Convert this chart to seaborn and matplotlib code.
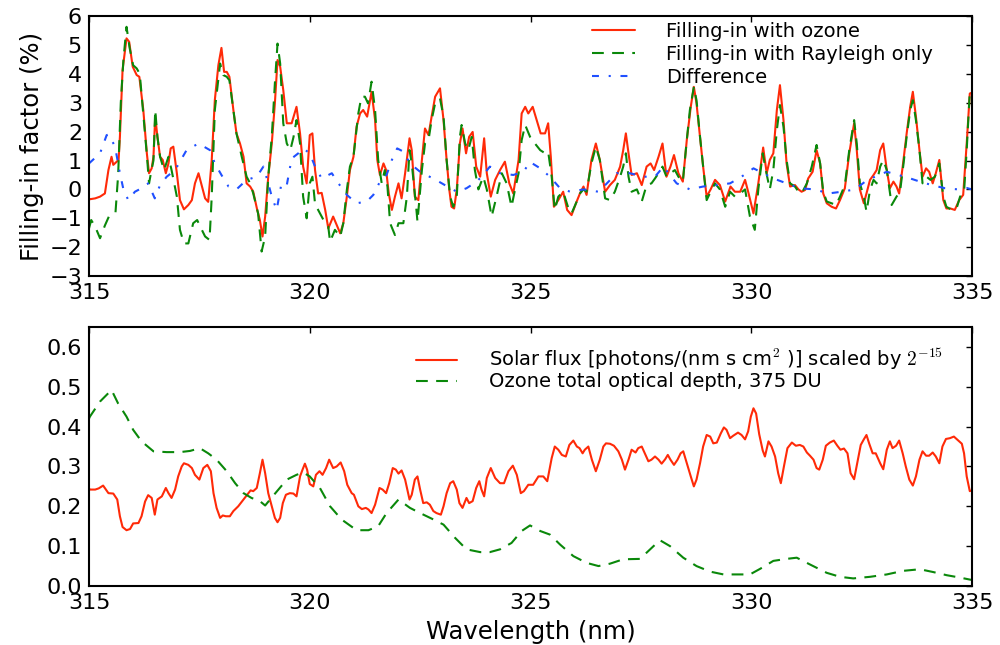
import numpy as np
import pandas as pd
import matplotlib
matplotlib.use("Agg")
import matplotlib.pyplot as plt
import seaborn as sns

# ---- data ----
# top panel: filling-in with ozone
wl_ozone = [315.00, 315.02, 315.14, 315.25, 315.36, 315.44, 315.51, 315.55, 315.63, 315.67, 315.70, 315.76,
            315.85, 315.91, 315.99, 316.08, 316.14, 316.23, 316.31, 316.36, 316.42, 316.46, 316.50, 316.55,
            316.61, 316.67, 316.74, 316.80, 316.85, 316.91, 316.99, 317.06, 317.15, 317.25, 317.33, 317.40,
            317.48, 317.55, 317.63, 317.70, 317.78, 317.85, 317.93, 318.00, 318.06, 318.12, 318.18, 318.27,
            318.34, 318.42, 318.50, 318.57, 318.65, 318.72, 318.81, 318.87, 318.93, 318.99, 319.06, 319.14,
            319.21, 319.27, 319.33, 319.40, 319.48, 319.59, 319.70, 319.78, 319.85, 319.93, 320.00, 320.06,
            320.12, 320.19, 320.27, 320.35, 320.42, 320.53, 320.61, 320.69, 320.76, 320.84, 320.91, 320.99,
            321.06, 321.14, 321.21, 321.30, 321.40, 321.48, 321.53, 321.59, 321.67, 321.73, 321.79, 321.86,
            321.93, 322.01, 322.08, 322.16, 322.26, 322.31, 322.38, 322.46, 322.54, 322.61, 322.69, 322.76,
            322.84, 322.95, 323.03, 323.10, 323.16, 323.21, 323.27, 323.33, 323.40, 323.46, 323.54, 323.61,
            323.69, 323.77, 323.86, 323.95, 324.01, 324.10, 324.20, 324.31, 324.42, 324.52, 324.61, 324.73,
            324.80, 324.88, 324.95, 325.05, 325.14, 325.23, 325.33, 325.40, 325.46, 325.53, 325.63, 325.74,
            325.83, 325.93, 326.03, 326.12, 326.20, 326.27, 326.38, 326.48, 326.57, 326.69, 326.80, 326.91,
            327.03, 327.10, 327.16, 327.22, 327.29, 327.41, 327.52, 327.63, 327.72, 327.80, 327.90, 327.99,
            328.08, 328.17, 328.25, 328.35, 328.45, 328.54, 328.63, 328.70, 328.76, 328.84, 328.91, 328.99,
            329.08, 329.18, 329.29, 329.41, 329.53, 329.63, 329.75, 329.86, 329.94, 330.05, 330.16, 330.27,
            330.35, 330.42, 330.50, 330.58, 330.65, 330.73, 330.80, 330.88, 330.99, 331.07, 331.14, 331.22,
            331.29, 331.39, 331.48, 331.56, 331.63, 331.71, 331.82, 331.92, 332.01, 332.12, 332.22, 332.33,
            332.39, 332.46, 332.55, 332.61, 332.69, 332.77, 332.84, 332.92, 332.99, 333.07, 333.14, 333.22,
            333.29, 333.35, 333.43, 333.52, 333.60, 333.66, 333.73, 333.81, 333.88, 333.96, 334.03, 334.11,
            334.18, 334.26, 334.35, 334.42, 334.51, 334.61, 334.71, 334.80, 334.88, 334.95, 335.00]
fi_ozone = [-0.32, -0.34, -0.31, -0.25, -0.14, 0.67, 1.13, 0.85, 0.96, 1.02, 1.82, 4.13,
            5.23, 5.11, 4.25, 3.96, 3.90, 2.75, 1.25, 0.56, 0.73, 1.13, 2.52, 1.82,
            1.13, 1.02, 0.56, 0.90, 1.42, 1.48, 0.56, -0.37, -0.69, -0.54, -0.37, 0.21,
            0.56, 0.15, -0.31, -0.43, 1.02, 3.09, 4.30, 4.90, 4.07, 4.07, 3.90, 2.75,
            1.94, 1.59, 1.13, 0.21, 0.10, -0.08, -0.71, -1.06, -1.63, -0.94, 0.44, 1.59,
            2.98, 4.48, 4.25, 3.44, 2.29, 2.29, 2.86, 1.94, 0.79, 0.21, 1.88, 1.94,
            0.67, -0.14, -0.12, -0.71, -1.35, -0.94, -1.23, -1.52, -1.17, -0.25, 0.67, 1.13,
            2.17, 2.63, 2.75, 2.52, 3.38, 2.40, 1.02, 0.50, 0.90, 0.67, -0.14, -0.71,
            -0.25, 0.21, -0.31, 0.56, 1.77, 1.36, -0.25, -0.37, 1.02, 2.11, 1.88, 2.52,
            3.21, 3.50, 2.40, 1.02, 0.00, -0.60, -0.66, 0.00, 1.59, 2.11, 1.25, 1.82,
            1.99, 0.79, 0.44, 1.77, 0.56, -0.25, 0.33, 0.67, 0.96, 0.21, -0.14, 1.02,
            2.63, 2.86, 2.63, 2.86, 2.40, 1.94, 1.94, 2.29, 1.13, -0.60, -0.37, -0.08,
            -0.71, -0.89, -0.48, -0.14, 0.10, -0.19, 1.02, 1.59, 1.02, -0.08, 0.15, 0.33,
            0.79, 1.36, 1.94, 1.25, 0.50, 0.56, 0.15, 0.79, 0.90, 0.67, 1.13, 1.59,
            0.44, 0.79, 1.19, 0.56, 0.27, 1.71, 2.86, 3.55, 2.98, 1.82, 0.79, -0.25,
            0.00, 0.33, 0.15, -0.42, 0.10, -0.08, -0.08, 0.33, -0.14, -0.83, 0.21, 1.45,
            0.56, 1.02, 1.25, 2.75, 3.61, 2.40, 0.90, 0.10, 0.15, 0.00, -0.08, -0.02,
            0.38, 0.61, 1.36, 0.90, -0.14, -0.48, -0.60, -0.66, -0.37, 0.04, 1.25, 2.29,
            1.36, 0.00, -0.48, -0.14, 0.33, 0.50, 0.67, 1.36, 1.59, 0.67, 0.04, 0.27,
            0.10, -0.14, 0.79, 1.94, 2.86, 3.38, 2.52, 1.36, 0.44, 0.73, 0.61, 0.21,
            0.56, 1.02, -0.37, -0.66, -0.66, -0.71, -0.37, -0.19, 1.59, 3.32, 3.35]

# top panel: filling-in with Rayleigh only
wl_rayleigh = [315.00, 315.05, 315.14, 315.25, 315.36, 315.45, 315.55, 315.60, 315.66, 315.72, 315.78, 315.85,
               315.92, 316.00, 316.08, 316.15, 316.23, 316.31, 316.36, 316.42, 316.46, 316.50, 316.55, 316.61,
               316.70, 316.80, 316.87, 316.99, 317.06, 317.15, 317.25, 317.36, 317.45, 317.52, 317.63, 317.73,
               317.78, 317.85, 317.97, 318.04, 318.12, 318.18, 318.27, 318.34, 318.46, 318.57, 318.65, 318.72,
               318.83, 318.91, 318.99, 319.06, 319.14, 319.21, 319.27, 319.33, 319.40, 319.48, 319.56, 319.63,
               319.70, 319.78, 319.85, 319.93, 320.00, 320.06, 320.12, 320.19, 320.35, 320.42, 320.46, 320.57,
               320.69, 320.76, 320.84, 320.91, 320.99, 321.10, 321.17, 321.25, 321.32, 321.40, 321.48, 321.55,
               321.63, 321.70, 321.76, 321.82, 321.93, 322.01, 322.12, 322.20, 322.26, 322.31, 322.41, 322.44,
               322.54, 322.61, 322.69, 322.76, 322.84, 322.95, 323.03, 323.10, 323.18, 323.25, 323.33, 323.40,
               323.44, 323.52, 323.59, 323.67, 323.74, 323.82, 323.93, 324.01, 324.12, 324.23, 324.35, 324.46,
               324.57, 324.65, 324.73, 324.80, 324.88, 324.99, 325.10, 325.22, 325.33, 325.40, 325.48, 325.55,
               325.63, 325.74, 325.86, 325.93, 326.03, 326.12, 326.20, 326.27, 326.38, 326.48, 326.57, 326.69,
               326.80, 326.91, 327.03, 327.10, 327.16, 327.22, 327.29, 327.41, 327.52, 327.63, 327.74, 327.82,
               327.90, 327.99, 328.08, 328.17, 328.27, 328.35, 328.45, 328.54, 328.61, 328.70, 328.76, 328.84,
               328.91, 328.99, 329.08, 329.18, 329.29, 329.41, 329.52, 329.63, 329.75, 329.86, 329.97, 330.08,
               330.16, 330.26, 330.33, 330.42, 330.50, 330.58, 330.65, 330.73, 330.80, 330.88, 330.99, 331.07,
               331.14, 331.26, 331.37, 331.48, 331.56, 331.63, 331.71, 331.82, 331.92, 332.01, 332.12, 332.22,
               332.33, 332.39, 332.46, 332.55, 332.61, 332.69, 332.77, 332.84, 332.92, 332.99, 333.07, 333.18,
               333.29, 333.37, 333.45, 333.52, 333.60, 333.66, 333.73, 333.81, 333.88, 333.97, 334.06, 334.16,
               334.26, 334.35, 334.42, 334.54, 334.65, 334.73, 334.82, 334.88, 334.95, 335.00]
fi_rayleigh = [-1.35, -1.06, -1.29, -1.69, -1.25, -0.94, -0.83, -0.80, 0.50, 3.00, 4.50, 5.63,
               4.90, 4.30, 4.19, 4.00, 2.60, 1.20, 0.21, 0.70, 1.00, 2.75, 1.82, 1.13,
               0.67, 1.13, 0.67, -0.25, -1.40, -1.87, -1.87, -1.17, -1.06, -1.29, -1.63, -1.75,
               -0.25, 2.75, 4.36, 3.96, 3.90, 3.78, 2.75, 1.94, 1.13, 0.44, 0.21, -0.14,
               -0.83, -2.15, -1.63, 0.44, 1.82, 3.67, 5.05, 4.36, 2.29, 1.59, 1.36, 1.80,
               2.40, 1.59, -0.25, -1.00, 0.21, 0.44, -0.50, -0.71, -1.17, -1.29, -1.81, -1.40,
               -1.64, -1.17, -0.02, 0.79, 1.13, 2.63, 3.21, 3.21, 2.98, 3.73, 2.75, 1.02,
               0.21, 0.67, 0.10, -1.17, -1.58, -1.17, -1.17, -0.25, 1.36, 0.90, -0.60, -1.12,
               0.67, 1.59, 1.71, 2.40, 2.98, 3.15, 2.52, 1.02, -0.25, -0.60, -0.25, 1.82,
               2.23, 1.59, 1.36, 1.82, 0.67, 0.00, 0.44, 0.00, -0.94, -0.25, 0.56, 0.21,
               -0.60, 0.00, 0.56, 1.71, 2.23, 1.82, 1.59, 1.36, 1.25, 1.31, 0.44, -0.71,
               -0.25, -0.08, -0.66, -0.83, -0.48, -0.14, 0.00, -0.08, 0.90, 1.48, 1.02, -0.31,
               -0.37, -0.08, 0.44, 0.79, 1.25, 0.44, -0.08, 0.00, -0.42, 0.15, 0.21, 0.38,
               0.56, 0.79, 0.44, 0.56, 0.67, 0.44, 0.27, 1.71, 2.75, 3.55, 3.09, 1.82,
               0.79, -0.37, -0.08, 0.21, 0.00, -0.60, -0.08, -0.25, -0.14, 0.00, -0.94, -1.40,
               0.00, 1.25, 0.67, 0.00, 0.67, 2.06, 2.92, 2.17, 1.02, 0.21, 0.10, -0.08,
               -0.14, 0.21, 0.79, 1.54, 0.90, -0.08, -0.42, -0.48, -0.54, -0.25, 0.15, 1.36,
               2.40, 1.59, 0.21, -0.25, -0.77, -0.02, 0.33, 0.21, 0.79, 1.02, 0.67, -0.54,
               -0.25, -0.08, 0.90, 1.82, 2.75, 3.09, 2.40, 1.36, 0.21, 0.44, 0.33, 0.44,
               0.90, -0.25, -0.60, -0.71, -0.66, -0.25, -0.08, 1.36, 3.38, 3.35]

# top panel: difference
wl_diff = [315.00, 315.25, 315.40, 315.45, 315.59, 315.70, 315.78, 315.89, 316.04, 316.19, 316.34, 316.49,
           316.61, 316.76, 316.95, 317.21, 317.48, 317.74, 317.85, 318.00, 318.16, 318.34, 318.57, 318.80,
           318.95, 319.06, 319.14, 319.25, 319.36, 319.48, 319.59, 319.74, 319.85, 320.00, 320.12, 320.27,
           320.50, 320.65, 320.84, 321.06, 321.29, 321.44, 321.59, 321.74, 321.86, 321.98, 322.12, 322.27,
           322.54, 322.80, 323.06, 323.33, 323.55, 323.78, 323.93, 324.08, 324.31, 324.61, 324.84, 324.99,
           325.22, 325.44, 325.67, 325.90, 326.20, 326.54, 326.73, 326.95, 327.25, 327.56, 327.82, 328.01,
           328.31, 328.61, 328.91, 329.22, 329.52, 329.78, 330.05, 330.27, 330.50, 330.80, 331.10, 331.44,
           331.75, 332.05, 332.35, 332.58, 332.80, 333.07, 333.33, 333.60, 333.82, 334.09, 334.39, 334.69,
           334.88, 335.00]
fi_diff = [0.90, 1.25, 1.88, 1.90, 1.48, 0.56, 0.00, -0.37, -0.08, 0.04, 0.21, -0.31,
           0.15, 0.44, 0.67, 1.36, 1.59, 1.36, 0.90, 0.50, 0.10, 0.00, 0.33, 0.44,
           0.79, 0.21, -0.25, -0.71, 0.21, 0.15, 1.07, 1.25, 1.42, 1.25, 0.79, 0.38,
           0.56, 0.21, -0.19, -0.48, -0.42, -0.19, 0.27, 0.50, 1.02, 1.42, 1.31, 0.90,
           0.56, 0.38, 0.15, -0.08, 0.04, 0.27, 0.50, 0.79, 0.56, 0.50, 0.61, 0.95,
           0.73, 0.44, 0.04, -0.08, 0.00, -0.08, 0.21, 0.56, 0.56, 0.44, 0.44, 0.79,
           0.21, 0.00, 0.10, 0.15, 0.21, 0.44, 0.73, 0.56, 0.38, 0.21, 0.04, 0.00,
           -0.14, -0.08, 0.00, 0.27, 0.44, 0.61, 0.50, 0.38, 0.27, 0.15, 0.04, 0.00,
           0.05, 0.00]

# bottom panel: solar flux (scaled)
wl_solar = [315.00, 315.02, 315.14, 315.22, 315.32, 315.44, 315.55, 315.64, 315.70, 315.76, 315.85, 315.93,
            316.00, 316.12, 316.19, 316.27, 316.34, 316.42, 316.49, 316.55, 316.65, 316.74, 316.80, 316.87,
            316.95, 317.02, 317.10, 317.15, 317.25, 317.33, 317.40, 317.50, 317.59, 317.68, 317.76, 317.82,
            317.89, 317.97, 318.03, 318.10, 318.19, 318.27, 318.38, 318.50, 318.61, 318.66, 318.72, 318.80,
            318.87, 318.93, 318.99, 319.06, 319.14, 319.21, 319.27, 319.33, 319.39, 319.46, 319.55, 319.63,
            319.70, 319.78, 319.84, 319.89, 319.94, 320.00, 320.08, 320.14, 320.22, 320.29, 320.37, 320.44,
            320.53, 320.61, 320.70, 320.78, 320.85, 320.95, 321.00, 321.10, 321.18, 321.27, 321.33, 321.40,
            321.48, 321.58, 321.65, 321.73, 321.80, 321.88, 321.95, 322.01, 322.08, 322.16, 322.26, 322.31,
            322.38, 322.44, 322.50, 322.57, 322.65, 322.72, 322.80, 322.87, 322.97, 323.03, 323.10, 323.18,
            323.25, 323.33, 323.39, 323.46, 323.55, 323.61, 323.69, 323.77, 323.84, 323.89, 323.95, 324.01,
            324.10, 324.20, 324.31, 324.40, 324.50, 324.60, 324.69, 324.78, 324.85, 324.95, 325.06, 325.18,
            325.29, 325.38, 325.48, 325.55, 325.63, 325.71, 325.80, 325.88, 325.97, 326.05, 326.11, 326.18,
            326.23, 326.31, 326.39, 326.48, 326.57, 326.65, 326.71, 326.80, 326.89, 326.99, 327.07, 327.14,
            327.22, 327.29, 327.38, 327.44, 327.52, 327.62, 327.67, 327.74, 327.82, 327.90, 327.97, 328.05,
            328.11, 328.17, 328.25, 328.33, 328.40, 328.46, 328.54, 328.63, 328.70, 328.76, 328.84, 328.91,
            328.99, 329.07, 329.14, 329.22, 329.31, 329.38, 329.44, 329.52, 329.59, 329.70, 329.78, 329.86,
            329.93, 329.99, 330.05, 330.11, 330.18, 330.26, 330.31, 330.39, 330.46, 330.54, 330.61, 330.67,
            330.74, 330.82, 330.92, 331.01, 331.10, 331.18, 331.26, 331.33, 331.41, 331.48, 331.54, 331.62,
            331.69, 331.78, 331.87, 331.95, 332.02, 332.10, 332.18, 332.25, 332.33, 332.40, 332.48, 332.55,
            332.61, 332.67, 332.75, 332.82, 332.92, 332.99, 333.07, 333.14, 333.20, 333.28, 333.35, 333.43,
            333.50, 333.58, 333.66, 333.73, 333.81, 333.88, 333.96, 334.03, 334.11, 334.18, 334.26, 334.33,
            334.41, 334.50, 334.59, 334.67, 334.77, 334.82, 334.88, 334.95, 335.00]
flux = [0.245, 0.242, 0.242, 0.245, 0.252, 0.233, 0.232, 0.217, 0.175, 0.148, 0.140, 0.143,
        0.157, 0.158, 0.175, 0.212, 0.228, 0.221, 0.179, 0.217, 0.225, 0.246, 0.233, 0.221,
        0.242, 0.275, 0.300, 0.308, 0.304, 0.296, 0.279, 0.267, 0.296, 0.304, 0.288, 0.233,
        0.196, 0.171, 0.177, 0.175, 0.175, 0.188, 0.200, 0.217, 0.233, 0.240, 0.238, 0.246,
        0.283, 0.317, 0.283, 0.233, 0.200, 0.171, 0.160, 0.171, 0.208, 0.229, 0.233, 0.232,
        0.225, 0.275, 0.293, 0.307, 0.292, 0.256, 0.250, 0.279, 0.288, 0.279, 0.296, 0.317,
        0.296, 0.300, 0.310, 0.288, 0.254, 0.233, 0.229, 0.200, 0.193, 0.196, 0.192, 0.183,
        0.204, 0.246, 0.242, 0.233, 0.258, 0.296, 0.292, 0.282, 0.290, 0.267, 0.217, 0.229,
        0.267, 0.275, 0.242, 0.208, 0.210, 0.204, 0.188, 0.183, 0.179, 0.200, 0.233, 0.258,
        0.263, 0.242, 0.208, 0.196, 0.221, 0.208, 0.213, 0.246, 0.263, 0.242, 0.225, 0.271,
        0.296, 0.271, 0.258, 0.258, 0.288, 0.302, 0.279, 0.233, 0.238, 0.254, 0.254, 0.275,
        0.275, 0.263, 0.321, 0.350, 0.342, 0.329, 0.325, 0.354, 0.365, 0.350, 0.346, 0.333,
        0.342, 0.350, 0.317, 0.288, 0.317, 0.350, 0.358, 0.357, 0.352, 0.338, 0.317, 0.292,
        0.317, 0.342, 0.335, 0.346, 0.350, 0.325, 0.313, 0.317, 0.325, 0.317, 0.307, 0.318,
        0.329, 0.317, 0.304, 0.317, 0.333, 0.338, 0.308, 0.275, 0.250, 0.267, 0.308, 0.350,
        0.379, 0.375, 0.358, 0.360, 0.383, 0.398, 0.392, 0.371, 0.377, 0.385, 0.379, 0.368,
        0.388, 0.425, 0.446, 0.433, 0.381, 0.340, 0.325, 0.363, 0.350, 0.325, 0.283, 0.258,
        0.300, 0.346, 0.360, 0.352, 0.354, 0.350, 0.335, 0.327, 0.317, 0.296, 0.292, 0.317,
        0.352, 0.360, 0.365, 0.352, 0.342, 0.345, 0.333, 0.283, 0.268, 0.308, 0.354, 0.368,
        0.379, 0.358, 0.333, 0.333, 0.308, 0.293, 0.342, 0.363, 0.346, 0.352, 0.365, 0.333,
        0.300, 0.267, 0.252, 0.275, 0.317, 0.338, 0.327, 0.327, 0.335, 0.325, 0.308, 0.350,
        0.369, 0.371, 0.375, 0.367, 0.357, 0.333, 0.275, 0.238, 0.240]

# bottom panel: ozone total optical depth
wl_tau = [315.00, 315.02, 315.25, 315.51, 315.66, 315.85, 316.00, 316.19, 316.46, 316.76, 317.06, 317.29,
          317.51, 317.70, 317.89, 318.12, 318.31, 318.50, 318.68, 318.87, 318.99, 319.10, 319.29, 319.48,
          319.70, 319.85, 320.00, 320.23, 320.46, 320.72, 321.06, 321.33, 321.55, 321.74, 322.01, 322.27,
          322.50, 322.80, 323.03, 323.29, 323.55, 323.86, 324.08, 324.31, 324.57, 324.80, 324.99, 325.22,
          325.44, 325.67, 325.97, 326.27, 326.54, 326.80, 327.10, 327.48, 327.71, 327.93, 328.16, 328.46,
          328.76, 329.07, 329.37, 329.67, 329.97, 330.20, 330.50, 330.80, 331.03, 331.33, 331.71, 332.01,
          332.31, 332.69, 333.07, 333.44, 333.82, 334.12, 334.43, 334.73, 335.00]
tau = [0.420, 0.425, 0.463, 0.492, 0.458, 0.425, 0.392, 0.363, 0.338, 0.336, 0.336, 0.339,
       0.346, 0.333, 0.317, 0.288, 0.258, 0.233, 0.221, 0.213, 0.202, 0.217, 0.242, 0.267,
       0.279, 0.285, 0.275, 0.246, 0.200, 0.167, 0.140, 0.140, 0.150, 0.183, 0.217, 0.196,
       0.183, 0.167, 0.154, 0.121, 0.092, 0.085, 0.085, 0.092, 0.108, 0.138, 0.152, 0.138,
       0.129, 0.104, 0.075, 0.058, 0.050, 0.056, 0.067, 0.068, 0.092, 0.115, 0.100, 0.071,
       0.050, 0.036, 0.029, 0.029, 0.029, 0.043, 0.063, 0.068, 0.071, 0.054, 0.033, 0.023,
       0.019, 0.023, 0.029, 0.038, 0.042, 0.035, 0.027, 0.021, 0.015]

lab_ozone = "Filling-in with ozone"
lab_rayleigh = "Filling-in with Rayleigh only"
lab_diff = "Difference"
lab_flux = "Solar flux [photons/(nm s cm$^2$ )] scaled by $2^{-15}$"
lab_tau = "Ozone total optical depth, 375 DU"

# ---- style ----
sns.set_style("white")
plt.rcParams["font.family"] = ["DejaVu Sans"]
plt.rcParams["mathtext.fontset"] = "cm"
plt.rcParams["lines.scale_dashes"] = False
plt.rcParams["axes.linewidth"] = 1.5
plt.rcParams["text.color"] = "black"
plt.rcParams["axes.labelcolor"] = "black"

RED = "#ff2a08"
GREEN = "#0a880a"
BLUE = "#2050ff"

fig = plt.figure(figsize=(10, 6.45), dpi=100)
ax1 = fig.add_axes([0.089, 0.572, 0.883, 0.403])
ax2 = fig.add_axes([0.089, 0.0915, 0.883, 0.4015])

sns.lineplot(x=wl_ozone, y=fi_ozone, ax=ax1, color=RED, linewidth=1.5, label=lab_ozone)
sns.lineplot(x=wl_rayleigh, y=fi_rayleigh, ax=ax1, color=GREEN, linewidth=1.5,
             linestyle=(0, (8.5, 6)), label=lab_rayleigh)
sns.lineplot(x=wl_diff, y=fi_diff, ax=ax1, color=BLUE, linewidth=1.5,
             linestyle=(0, (5, 7, 1.5, 7)), label=lab_diff)

sns.lineplot(x=wl_solar, y=flux, ax=ax2, color=RED, linewidth=1.5, label=lab_flux)
sns.lineplot(x=wl_tau, y=tau, ax=ax2, color=GREEN, linewidth=1.5,
             linestyle=(0, (8.5, 6)), label=lab_tau)

for ax in (ax1, ax2):
    ax.set_xlim(315, 335)
    ax.set_xticks(np.arange(315, 336, 5))
    ax.tick_params(direction="in", length=4.5, width=1, top=True, right=True,
                   labelsize=16, pad=5, colors="black")
    for s in ax.spines.values():
        s.set_color("black")
        s.set_linewidth(1.5)

ax1.set_ylim(-3, 6)
ax1.set_yticks(np.arange(-3, 7, 1))
ax1.set_ylabel("Filling-in factor (%)", fontsize=17.5, labelpad=4)
ax1.set_xlabel("")

ax2.set_ylim(0, 0.65)
ax2.set_yticks(np.arange(0, 0.61, 0.1))
ax2.set_yticklabels([f"{v:.1f}" for v in np.arange(0, 0.61, 0.1)])
ax2.set_xlabel("Wavelength (nm)", fontsize=17.5, labelpad=5)

ax1.legend(loc="upper left", bbox_to_anchor=(0.570, 0.978), frameon=False, fontsize=14,
           handlelength=2.2, handletextpad=1.6, labelspacing=0.2, borderpad=0, borderaxespad=0)
ax2.legend(loc="upper left", bbox_to_anchor=(0.370, 0.922), frameon=False, fontsize=14,
           handlelength=2.1, handletextpad=1.65, labelspacing=0.0, borderpad=0, borderaxespad=0)

fig.savefig("out.png", dpi=100)
